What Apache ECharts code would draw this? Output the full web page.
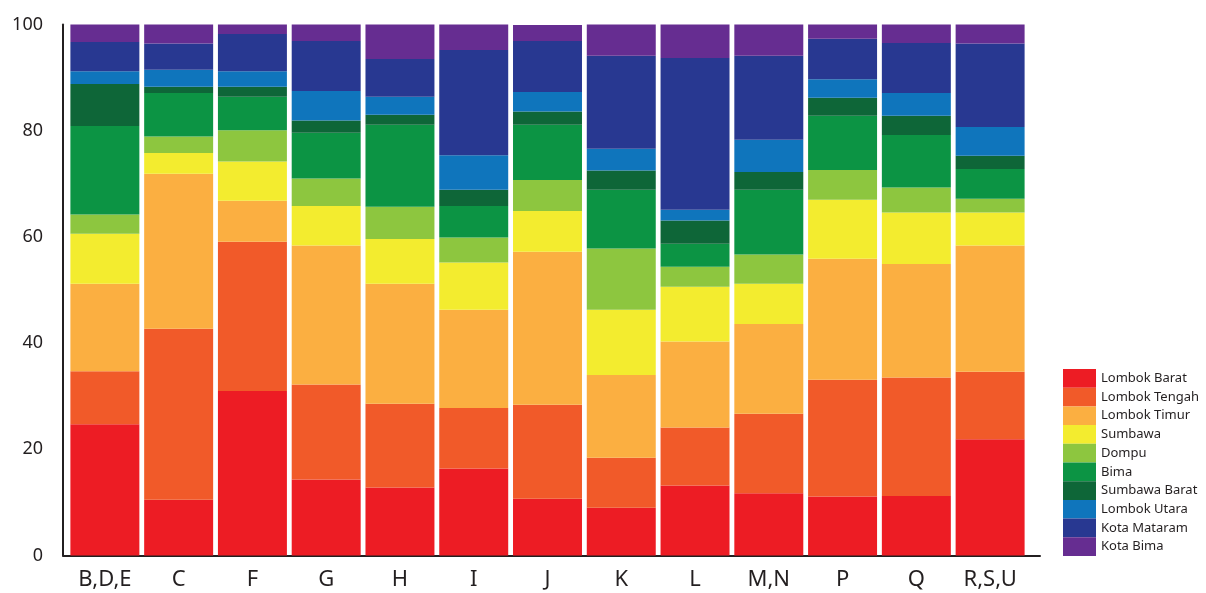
<!DOCTYPE html>
<html>
<head>
<meta charset="utf-8">
<script src="https://cdn.jsdelivr.net/npm/echarts@6/dist/echarts.min.js"></script>
<style>
html,body{margin:0;padding:0;background:#fff;}
#chart{width:1206px;height:593px;}
</style>
</head>
<body>
<div id="chart"></div>
<script>
const categories = ['B,D,E','C','F','G','H','I','J','K','L','M,N','P','Q','R,S,U'];
const seriesNames = ['Lombok Barat','Lombok Tengah','Lombok Timur','Sumbawa','Dompu','Bima','Sumbawa Barat','Lombok Utara','Kota Mataram','Kota Bima'];
const lombokBarat  = [24.7, 10.5, 31.0, 14.3, 12.8, 16.4, 10.7,  9.0, 13.2, 11.7, 11.1, 11.2, 21.9];
const lombokTengah = [10.0, 32.2, 28.1, 17.9, 15.8, 11.4, 17.7,  9.4, 10.9, 15.0, 22.0, 22.3, 12.7];
const lombokTimur  = [16.5, 29.2,  7.7, 26.2, 22.6, 18.5, 28.8, 15.6, 16.2, 16.9, 22.8, 21.4, 23.8];
const sumbawa      = [ 9.4,  3.9,  7.4,  7.4,  8.4,  8.9,  7.7, 12.3, 10.3,  7.6, 11.1,  9.7,  6.2];
const dompu        = [ 3.6,  3.1,  5.9,  5.2,  6.1,  4.7,  5.8, 11.5,  3.8,  5.5,  5.6,  4.7,  2.6];
const bima         = [16.7,  8.2,  6.3,  8.6, 15.4,  5.9, 10.4, 11.1,  4.3, 12.2, 10.2,  9.9,  5.6];
const sumbawaBarat = [ 7.9,  1.2,  1.9,  2.3,  1.9,  3.1,  2.5,  3.6,  4.4,  3.3,  3.4,  3.6,  2.5];
const lombokUtara  = [ 2.4,  3.2,  2.9,  5.6,  3.4,  6.5,  3.7,  4.1,  2.0,  6.1,  3.5,  4.3,  5.4];
const kotaMataram  = [ 5.5,  4.9,  7.0,  9.4,  7.1, 19.8,  9.6, 17.5, 28.6, 15.8,  7.6,  9.4, 15.7];
const kotaBima     = [ 3.3,  3.6,  1.8,  3.1,  6.5,  4.8,  3.0,  5.9,  6.3,  5.9,  2.7,  3.5,  3.6];
const yTicks = [0, 20, 40, 60, 80, 100];

const seriesData = [lombokBarat, lombokTengah, lombokTimur, sumbawa, dompu, bima, sumbawaBarat, lombokUtara, kotaMataram, kotaBima];
const colors = ['#ED1C24','#F15A29','#FBAF41','#F3EC2F','#8DC63F','#0C9444','#0E6638','#0F75BC','#283891','#662D91'];

const chart = echarts.init(document.getElementById('chart'));
const option = {
  animation: false,
  backgroundColor: '#ffffff',
  color: colors,
  textStyle: { fontFamily: 'Noto Sans' },
  legend: {
    orient: 'vertical',
    left: 1063,
    top: 369,
    itemWidth: 33,
    itemHeight: 18.7,
    itemGap: 0,
    padding: 0,
    icon: 'rect',
    textStyle: { fontSize: 13, lineHeight: 16, color: '#231F20', fontFamily: 'Noto Sans' },
    data: seriesNames
  },
  grid: [
    { left: 68, right: 179, top: 24.5, bottom: 37.5 },
    { left: 63, right: 166, top: 24.5, bottom: 37.5 }
  ],
  xAxis: [
    {
      type: 'category', gridIndex: 0, data: categories,
      axisLine: { show: false }, axisTick: { show: false },
      axisLabel: { margin: 13, fontSize: 22, color: '#231F20', fontFamily: 'Noto Sans' }
    },
    {
      type: 'value', gridIndex: 1, min: 0, max: 1,
      axisLine: { show: true, lineStyle: { color: '#231F20', width: 2 } },
      axisTick: { show: false }, axisLabel: { show: false }, splitLine: { show: false }
    }
  ],
  yAxis: [
    { type: 'value', gridIndex: 0, min: 0, max: 100, show: false, splitLine: { show: false } },
    {
      type: 'value', gridIndex: 1, min: yTicks[0], max: yTicks[yTicks.length - 1], interval: 20,
      axisLine: { show: true, lineStyle: { color: '#231F20', width: 2 } },
      axisTick: { show: false }, splitLine: { show: false },
      axisLabel: { margin: 20, fontSize: 18, color: '#231F20', fontFamily: 'Noto Sans', padding: [0, 0, 5, 0] }
    }
  ],
  series: seriesNames.map((name, i) => ({
    name: name,
    type: 'bar',
    stack: 'total',
    xAxisIndex: 0,
    yAxisIndex: 0,
    barCategoryGap: '6.5%',
    itemStyle: { color: colors[i] },
    emphasis: { disabled: true },
    data: seriesData[i]
  }))
};
chart.setOption(option);
</script>
</body>
</html>
